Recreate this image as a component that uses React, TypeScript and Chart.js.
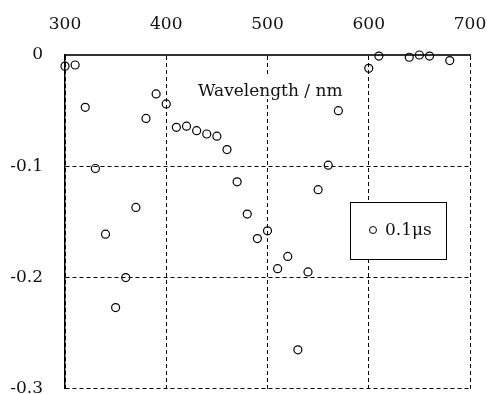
import React, { useEffect, useRef } from "react";
import { Chart, registerables } from "chart.js";

Chart.register(...registerables);

const wavelengths = [300, 310, 320, 330, 340, 350, 360, 370, 380, 390, 400, 410, 420, 430, 440, 450, 460, 470, 480, 490, 500, 510, 520, 530, 540, 550, 560, 570, 600, 610, 640, 650, 660, 680];
const absorbance = [-0.010, -0.009, -0.047, -0.102, -0.161, -0.227, -0.200, -0.137, -0.057, -0.035, -0.044, -0.065, -0.064, -0.068, -0.071, -0.073, -0.085, -0.114, -0.143, -0.165, -0.158, -0.192, -0.181, -0.265, -0.195, -0.121, -0.099, -0.050, -0.012, -0.001, -0.002, 0.0, -0.001, -0.005];
const xTicks = [300, 400, 500, 600, 700];
const yTicks = [0, -0.1, -0.2, -0.3];
const yTickLabels = ["0", "-0.1", "-0.2", "-0.3"];
const seriesLabel = "0.1μs";
const axisTitle = "Wavelength / nm";

const FONT = "'DejaVu Serif', serif";

const overlayPlugin = {
  id: "overlay",
  afterDatasetsDraw(chart: any) {
    const { ctx, chartArea } = chart;
    const ca = chartArea;
    ctx.save();
    // axis title inside plot with white background
    ctx.font = `17px ${FONT}`;
    const tx = ca.left + 133;
    const ty = ca.top + 41;
    const w = ctx.measureText(axisTitle).width;
    ctx.fillStyle = "#fff";
    ctx.fillRect(tx - 3, ty - 20, w + 8, 23);
    ctx.fillStyle = "#111";
    ctx.textBaseline = "alphabetic";
    ctx.textAlign = "left";
    ctx.fillText(axisTitle, tx, ty);
    // legend
    const lx = ca.left + 285;
    const ly = ca.top + 147;
    const lw = 96;
    const lh = 57;
    ctx.fillStyle = "#fff";
    ctx.fillRect(lx, ly, lw, lh);
    ctx.strokeStyle = "#000";
    ctx.lineWidth = 1;
    ctx.setLineDash([]);
    ctx.strokeRect(lx + 0.5, ly + 0.5, lw, lh);
    ctx.beginPath();
    ctx.arc(lx + 23, ly + 28, 3.5, 0, Math.PI * 2);
    ctx.stroke();
    ctx.fillStyle = "#111";
    ctx.font = `17px ${FONT}`;
    ctx.fillText(chart.data.datasets[0].label, lx + 35, ly + 33);
    ctx.restore();
  },
};

export default function App() {
  const ref = useRef<HTMLCanvasElement>(null);
  useEffect(() => {
    if (!ref.current) return;
    const chart = new Chart(ref.current, {
      type: "scatter",
      data: {
        datasets: [
          {
            label: seriesLabel,
            data: wavelengths.map((x, i) => ({ x, y: absorbance[i] })),
            pointStyle: "circle",
            pointRadius: 4,
            pointBorderWidth: 1.2,
            pointBorderColor: "#000",
            pointBackgroundColor: "rgba(0,0,0,0)",
            showLine: false,
            clip: false as any,
          },
        ],
      },
      options: {
        animation: false,
        responsive: false,
        events: [],
        layout: { padding: { left: 0, right: 17, top: 0, bottom: 3 } },
        plugins: { legend: { display: false }, tooltip: { enabled: false } },
        scales: {
          x: {
            type: "linear",
            position: "top",
            min: 300,
            max: 700,
            afterBuildTicks: (s: any) => {
              s.ticks = xTicks.map((v) => ({ value: v }));
            },
            afterFit: (s: any) => {
              s.height = 55;
              s.paddingLeft = 0;
              s.paddingRight = 0;
            },
            ticks: {
              font: { family: FONT, size: 17 },
              color: "#111",
              padding: 20,
              maxRotation: 0,
              callback: (v: any) => String(v),
            },
            grid: { color: "#000", lineWidth: 1, drawTicks: false },
            border: { display: true, color: "#333", width: 2, dash: [4, 3] },
          },
          y: {
            type: "linear",
            min: -0.3,
            max: 0,
            afterBuildTicks: (s: any) => {
              s.ticks = yTicks.map((v) => ({ value: v }));
            },
            afterFit: (s: any) => {
              s.width = 65;
              s.paddingTop = 0;
              s.paddingBottom = 0;
            },
            ticks: {
              font: { family: FONT, size: 17 },
              color: "#111",
              padding: 22,
              callback: (v: any) => {
                const i = yTicks.findIndex((t) => Math.abs(t - v) < 1e-9);
                return i >= 0 ? yTickLabels[i] : "";
              },
            },
            grid: { color: "#000", lineWidth: 1, drawTicks: false },
            border: { display: true, color: "#000", width: 1.5, dash: [4, 3] },
          },
        },
      },
      plugins: [overlayPlugin],
    });
    return () => chart.destroy();
  }, []);
  return (
    <div style={{ position: "fixed", left: 0, top: 0, width: 487, height: 394, background: "#fff" }}>
      <canvas ref={ref} width={487} height={394} style={{ width: 487, height: 394 }} />
    </div>
  );
}
